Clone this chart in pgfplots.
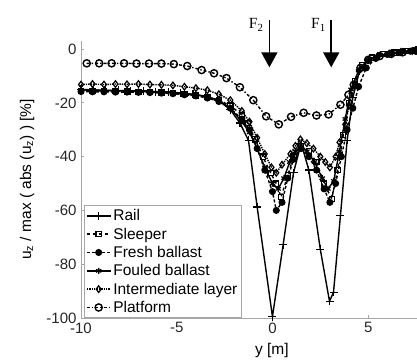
\documentclass[border=0pt]{standalone}
\usepackage{fontspec}
\setmainfont{Liberation Sans}
\newfontfamily\seriffont{Liberation Serif}
\usepackage{pgfplots}
\pgfplotsset{compat=1.18}
\usetikzlibrary{arrows.meta}
\begin{document}
\begin{tikzpicture}
\begin{axis}[
  name=ax,
  scale only axis,
  width=336pt, height=277pt,
  xmin=-10, xmax=7.55, ymin=-100, ymax=3,
  axis lines*=left,
  clip=false,
  xtick={-10,-5,0,5}, ytick={-100,-80,-60,-40,-20,0},
  tick align=inside,
  major tick length=3pt,
  axis line style={gray!70, line width=0.9pt},
  every tick/.style={gray!70, line width=0.7pt},
  /pgf/number format/assume math mode=true,
  tick label style={font=\fontsize{15}{17}\selectfont, text=black!85},
  xticklabel style={yshift=-1pt},
  yticklabel style={xshift=-1pt},
  every axis y label/.style={at={(axis description cs:0,0.5)}, xshift=-54pt, rotate=90, anchor=center, font=\fontsize{15.5}{17}\selectfont},
  every axis x label/.style={at={(axis description cs:0.568,0)}, yshift=-32pt, anchor=center, font=\fontsize{15.5}{17}\selectfont},
  ylabel={u\textsubscript{z} / max ( abs (u\textsubscript{z}) )  [\%]},
  xlabel={y [m]},
  legend cell align=left,
  legend style={at={(axis cs:-9.85,-100)}, anchor=south west, draw=gray!70, line width=0.7pt,
    font=\fontsize{15.5}{17}\selectfont, row sep=1.6pt, inner sep=1.8pt, fill=white},
  legend image code/.code={\draw[mark repeat=2,mark phase=2,#1] plot coordinates {(0cm,0cm) (0.42cm,0cm) (0.84cm,0cm)};},
  every axis plot/.append style={black, line width=1.4pt},
]
% Rail
\addplot[solid, mark=+, mark size=4pt, mark options={solid, line width=1.2pt}] coordinates {
(-10,-15.0) (-9.35,-15.2) (-8.7,-15.3) (-8.05,-15.4) (-7.4,-15.5) (-6.75,-15.6) (-6.1,-15.8) (-5.45,-16.0)
(-4.8,-16.3) (-4.15,-16.8) (-3.5,-17.5) (-2.85,-19.0) (-2.2,-22.5) (-1.7,-27.5) (-1.25,-34.0) (-0.8,-58.7)
(0,-99.5) (0.56,-72.7) (1.1,-46) (1.5,-35) (1.9,-45) (2.5,-74.5) (2.98,-93.8) (3.19,-90.4) (3.55,-62)
(3.9,-34) (4.2,-18) (4.55,-8) (5.0,-4) (5.6,-2.5) (6.2,-1.6) (6.8,-1.0) (7.5,-0.4)};
\addlegendentry{Rail}
% Sleeper
\addplot[dashed, mark=square, mark size=2.6pt, mark options={solid, line width=1.2pt}] coordinates {
(-10,-15.5) (-9.4,-15.6) (-8.8,-15.6) (-8.2,-15.7) (-7.6,-15.8) (-7.0,-15.9) (-6.4,-16.0) (-5.8,-16.2)
(-5.2,-16.4) (-4.6,-16.8) (-4.0,-17.2) (-3.4,-17.8) (-2.8,-19.0) (-2.2,-21.0) (-1.6,-24.5) (-1.3,-27.5)
(-0.9,-33.6) (-0.5,-40) (-0.1,-46) (0.2,-50) (0.45,-55) (0.8,-47) (1.1,-40) (1.5,-36) (1.9,-38) (2.3,-42)
(2.7,-50) (3.1,-55.7) (3.4,-45) (3.7,-32) (4.0,-20) (4.3,-12) (4.7,-6) (5.2,-3.2) (5.8,-1.9) (6.4,-1.3)
(7.0,-0.8) (7.5,-0.5)};
\addlegendentry{Sleeper}
% Fresh ballast
\addplot[densely dashed, mark=*, mark size=2.8pt, mark options={solid}] coordinates {
(-10,-15.8) (-9.4,-15.9) (-8.8,-15.9) (-8.2,-16.0) (-7.6,-16.0) (-7.0,-16.1) (-6.4,-16.2) (-5.8,-16.4)
(-5.2,-16.6) (-4.6,-17.0) (-4.0,-17.4) (-3.4,-18.2) (-2.8,-19.5) (-2.2,-22) (-1.6,-26) (-1.2,-30)
(-0.8,-37) (-0.4,-45) (0,-53) (0.2,-60) (0.5,-57) (0.8,-48) (1.1,-41) (1.5,-37) (1.9,-40) (2.3,-45)
(2.7,-52) (3.0,-57) (3.3,-50) (3.6,-40) (3.9,-30) (4.2,-22) (4.5,-14) (4.9,-7) (5.4,-3.5) (6.0,-2)
(6.6,-1.3) (7.2,-0.8) (7.5,-0.6)};
\addlegendentry{Fresh ballast}
% Fouled ballast
\addplot[solid, mark=asterisk, mark size=3pt, mark options={solid, line width=1.2pt}] coordinates {
(-10,-15.2) (-9.4,-15.3) (-8.8,-15.4) (-8.2,-15.5) (-7.6,-15.6) (-7.0,-15.7) (-6.4,-15.9) (-5.8,-16.1)
(-5.2,-16.3) (-4.6,-16.6) (-4.0,-17.0) (-3.4,-17.8) (-2.8,-19) (-2.2,-22) (-1.6,-27) (-1.2,-31)
(-0.8,-37) (-0.4,-44) (0,-50) (0.3,-52) (0.6,-48) (0.9,-42) (1.2,-38) (1.5,-36) (1.8,-38) (2.2,-42)
(2.6,-48) (2.9,-52) (3.2,-49) (3.5,-38) (3.8,-26) (4.1,-15) (4.5,-8) (5.0,-4) (5.6,-2.3) (6.2,-1.5)
(6.8,-1.0) (7.5,-0.5)};
\addlegendentry{Fouled ballast}
% Intermediate layer
\addplot[densely dotted, mark=diamond, mark size=3.3pt, mark options={solid, line width=1.2pt}] coordinates {
(-10,-13.2) (-9.4,-13.0) (-8.8,-13.2) (-8.2,-13.0) (-7.6,-13.1) (-7.0,-13.0) (-6.4,-13.2) (-5.8,-13.3)
(-5.2,-13.5) (-4.6,-14) (-4.0,-14.5) (-3.4,-15.3) (-2.8,-16.8) (-2.2,-19) (-1.6,-23) (-1.2,-27)
(-0.8,-33) (-0.4,-39) (-0.05,-44) (0.2,-46) (0.5,-43) (0.94,-39) (1.2,-36) (1.46,-33.6) (1.8,-35)
(2.14,-37) (2.5,-40) (2.76,-42) (3.0,-44) (3.3,-40) (3.5,-34.7) (3.8,-28) (4.0,-21) (4.3,-13)
(4.6,-7.5) (5.0,-4) (5.5,-2.6) (6.1,-1.7) (6.7,-1.1) (7.3,-0.7)};
\addlegendentry{Intermediate layer}
% Platform
\addplot[dashdotted, mark=o, mark size=3.6pt, mark options={solid, line width=1.4pt}] coordinates {
(-9.7,-5.3) (-9.05,-5.3) (-8.4,-5.3) (-7.75,-5.3) (-7.1,-5.4) (-6.45,-5.4) (-5.8,-5.4) (-5.15,-5.6)
(-4.45,-6.3) (-3.7,-7.8) (-3.05,-9.0) (-2.4,-10.8) (-1.7,-14.2) (-1.0,-19.0) (-0.33,-25.0) (0.33,-28.0)
(0.97,-25.2) (1.63,-23.7) (2.3,-24.7) (2.93,-24.3) (3.55,-20.7) (3.97,-17) (4.25,-13.3) (4.6,-7)
(5.0,-4) (5.6,-2.6) (6.2,-1.8) (6.8,-1.2) (7.5,-0.6)};
\addlegendentry{Platform}
% force arrows
\draw[line width=1.6pt, -{Triangle[length=15pt,width=16pt]}] (axis cs:-0.16,10.7) -- (axis cs:-0.16,-6.8);
\draw[line width=1.6pt, -{Triangle[length=15pt,width=16pt]}] (axis cs:3.07,10.7) -- (axis cs:3.07,-6.8);
\node[font=\seriffont\fontsize{15.5}{17}\selectfont] at (axis cs:-0.85,9.0) {F\textsubscript{2}};
\node[font=\seriffont\fontsize{15.5}{17}\selectfont] at (axis cs:2.4,9.0) {F\textsubscript{1}};
\end{axis}
\pgfresetboundingbox
\path[use as bounding box] ([xshift=-81pt,yshift=-42pt]ax.south west) rectangle ([yshift=41pt]ax.north east);
\end{tikzpicture}
\end{document}
